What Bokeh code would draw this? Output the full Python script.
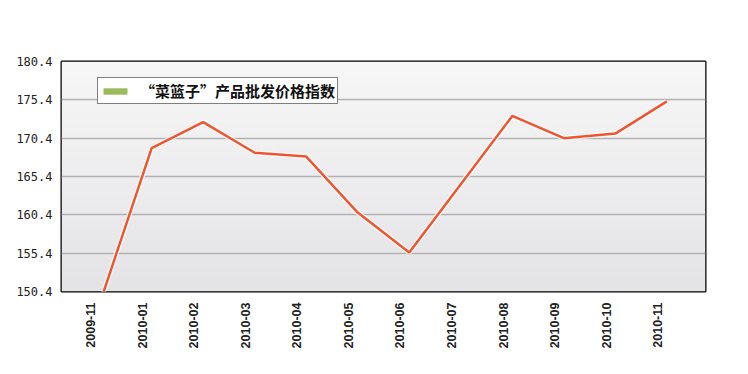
import numpy as np
from bokeh.plotting import figure
from bokeh.models import (ColumnDataSource, Range1d, FixedTicker, Legend, LegendItem)
from bokeh.embed import file_html
from bokeh.resources import INLINE

# ---- data ----
months = ["2009-11", "2010-01", "2010-02", "2010-03", "2010-04", "2010-05",
          "2010-06", "2010-07", "2010-08", "2010-09", "2010-10", "2010-11"]
index_values = [149.0, 169.1, 172.5, 168.5, 168.0, 160.7,
                155.5, 164.4, 173.3, 170.4, 171.0, 175.2]
y_ticks = [150.4, 155.4, 160.4, 165.4, 170.4, 175.4, 180.4]
y_tick_labels = ["150.4", "155.4", "160.4", "165.4", "170.4", "175.4", "180.4"]
series_name = "“菜篮子”产品批发价格指数"

x_pos = list(range(len(months)))
src = ColumnDataSource(dict(x=x_pos, y=index_values, month=months))

xr = Range1d(-0.75, len(months) - 0.25)
yr = Range1d(y_ticks[0], y_ticks[-1])
p = figure(width=740, height=358, output_backend="svg", toolbar_location=None,
           x_range=xr, y_range=yr,
           min_border_left=61, min_border_right=35,
           min_border_top=61, min_border_bottom=67)

p.background_fill_color = "#eeeeee"
p.border_fill_color = "white"
p.outline_line_color = "black"
p.outline_line_width = 2

# soft vertical gradient behind the plot (decoration, spans the ranges)
n = 64
t = np.linspace(0, 1, n)[:, None]            # 0 = bottom, 1 = top
bottom_rgb = np.array([228, 228, 231])
top_rgb = np.array([247, 247, 247])
rgb = (bottom_rgb + (top_rgb - bottom_rgb) * t).astype(np.uint8)
img = np.empty((n, 1), dtype=np.uint32)
view = img.view(dtype=np.uint8).reshape((n, 1, 4))
view[:, 0, 0] = rgb[:, 0]
view[:, 0, 1] = rgb[:, 1]
view[:, 0, 2] = rgb[:, 2]
view[:, 0, 3] = 255
p.image_rgba(image=[img], x=xr.start, y=yr.start,
             dw=xr.end - xr.start, dh=yr.end - yr.start, level="image")

# grid
p.xgrid.grid_line_color = None
p.ygrid.grid_line_color = "#b2b2b2"
p.ygrid.grid_line_width = 1.5

# y axis
p.yaxis.ticker = FixedTicker(ticks=y_ticks)
p.yaxis.major_label_overrides = {t_: s for t_, s in zip(y_ticks, y_tick_labels)}
p.yaxis.axis_line_color = None
p.yaxis.major_tick_line_color = None
p.yaxis.minor_tick_line_color = None
p.yaxis.major_tick_out = 0
p.yaxis.major_label_standoff = 9
p.yaxis.major_label_text_font = "DejaVu Sans Mono"
p.yaxis.major_label_text_font_size = "12px"
p.yaxis.major_label_text_color = "#222222"

# x axis (labels sit slightly left of the points, as in the reference)
shift = 0.18
x_ticks = [i - shift for i in x_pos]
p.xaxis.ticker = FixedTicker(ticks=x_ticks)
p.xaxis.major_label_overrides = {t_: m for t_, m in zip(x_ticks, months)}
p.xaxis.major_label_orientation = 1.5708
p.xaxis.axis_line_color = None
p.xaxis.major_tick_line_color = None
p.xaxis.minor_tick_line_color = None
p.xaxis.major_tick_out = 0
p.xaxis.major_label_standoff = 11
p.xaxis.major_label_text_font = "Liberation Sans"
p.xaxis.major_label_text_font_size = "12.5px"
p.xaxis.major_label_text_font_style = "bold"
p.xaxis.major_label_text_color = "#222222"

# line with white halo
p.line("x", "y", source=src, line_color="white", line_width=5, line_alpha=0.8)
p.line("x", "y", source=src, line_color="#EE5530", line_width=2.5)

# legend (green swatch as in the reference); swatch renderer has no visible data
leg_src = ColumnDataSource(dict(left=np.array([np.nan]), right=np.array([np.nan]),
                                top=np.array([np.nan]), bottom=np.array([np.nan])))
swatch = p.quad(left="left", right="right", top="top", bottom="bottom",
                source=leg_src, fill_color="#9BBB59", line_color=None)
legend = Legend(items=[LegendItem(label=series_name, renderers=[swatch])],
                location=(36, 187))
legend.border_line_color = "black"
legend.border_line_width = 1
legend.background_fill_color = "white"
legend.background_fill_alpha = 1
legend.padding = 2
legend.margin = 0
legend.glyph_width = 30
legend.glyph_height = 8
legend.label_height = 12
legend.label_standoff = 10
legend.label_text_font = "Noto Sans CJK SC"
legend.label_text_font_size = "15px"
legend.label_text_font_style = "bold"
legend.label_text_color = "#111111"
p.add_layout(legend, "center")

open("out.html", "w").write(file_html(p, INLINE))
